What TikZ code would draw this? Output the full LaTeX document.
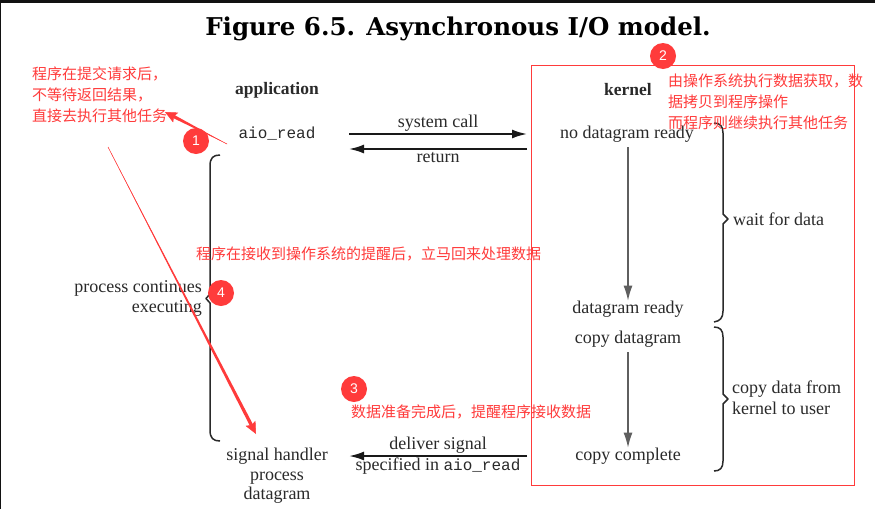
\documentclass[tikz,border=0pt]{standalone}
\usepackage{fontspec}
\setmainfont{Liberation Serif}
\setmonofont{Liberation Mono}
\newfontfamily\cjk{Noto Sans CJK SC}
\newfontfamily\titlefont{DejaVu Serif}
\newfontfamily\numfont{Liberation Sans}
\usetikzlibrary{arrows.meta,calc}
\definecolor{notered}{HTML}{FF3B3B}
\definecolor{inkgray}{HTML}{2A2A2A}
\newcommand{\fsize}[1]{\fontsize{#1}{#1}\selectfont}
% tapered annotation arrow: thin at the first coordinate, thick at the second
\newcommand{\taperarrow}[3]{
  \draw[markup] (#1) -- (#2);
  \coordinate (neck) at ($(#2)!8pt!(#1)$);
  \fill[notered] ($(neck)!#3!90:(#1)$) -- (#1) -- ($(neck)!#3!-90:(#1)$) -- cycle;
}
\begin{document}
\begin{tikzpicture}[x=1pt,y=-1pt]
%%%%%%%%%%%%%%%%%%%%%%%%%%%%%%%%%%%%%%%%%%%%%%%%%%%%%%%%
% STYLE
\tikzstyle{label}=[text=inkgray, inner sep=0pt, font=\fsize{18}, align=center]
\tikzstyle{head}=[label, font=\fsize{17.5}\bfseries]
\tikzstyle{code}=[label, font=\fsize{16}\ttfamily]
\tikzstyle{note}=[text=notered, inner sep=0pt, anchor=west, align=left, font={\fontsize{15}{21}\selectfont\cjk}]
\tikzstyle{badge}=[circle, fill=notered, text=white, inner sep=0pt, minimum size=26pt, font=\fsize{14}\numfont]
\tikzset{link/.style={-{Latex[length=15pt,width=9pt]}, line width=2pt, black!90}}
\tikzset{flow/.style={-{Latex[length=15pt,width=9pt]}, line width=1.3pt, inkgray!75}}
\tikzset{curly/.style={line width=1.5pt, inkgray, line join=round}}
\tikzset{markup/.style={-{Stealth[length=12pt,width=11pt,inset=2pt]}, line width=0.5pt, notered}}

\useasboundingbox (0,0) rectangle (875,509);
\fill[white] (0,0) rectangle (875,509);
\fill[black!93] (0,0) rectangle (875,3);
\fill[black!93] (0,0) rectangle (1,509);

%%%%%%%%%%%%%%%%%%%%%%%%%%%%%%%%%%%%%%%%%%%%%%%%%%%%%%%%
% NODES
\node[inner sep=0pt, font=\fsize{24.5}\titlefont\bfseries] (title) at (458,28.5) {Figure 6.5. Asynchronous I/O model.};

\node[head] (app) at (277,90) {application};
\node[head] (kernel) at (628,90) {kernel};

\node[code] (aio) at (277,134) {aio\_read};
\node[label] (nodata) at (627,134) {no datagram ready};
\node[label] (ready) at (628,309) {datagram ready};
\node[label] (copy) at (628,339) {copy datagram};
\node[label] (done) at (628,456) {copy complete};

\node[label, font={\fontsize{18}{19.5}\selectfont}] (handler) at (277,476) {signal handler\\process\\datagram};
\node[label, font={\fontsize{18}{20}\selectfont}, anchor=east, align=right] (cont) at (202,298) {process continues\\executing};

\node[label] (sys) at (438,123) {system call};
\node[label] (ret) at (438,158) {return};
\node[label] (deliver) at (438,445) {deliver signal};
\node[label] (spec) at (438,466) {specified in {\ttfamily\fsize{16}aio\_read}};

\node[label, anchor=west] (wait) at (733,219) {wait for data};
\node[label, anchor=west, align=left, font={\fontsize{18}{21}\selectfont}] (copydata) at (732,398) {copy data from\\kernel to user};

\coordinate (callA) at (349,134);
\coordinate (callB) at (527,134);
\coordinate (retA) at (527,149);
\coordinate (retB) at (349,149);
\coordinate (sigA) at (527,456);
\coordinate (sigB) at (349,456);

%%%%%%%%%%%%%%%%%%%%%%%%%%%%%%%%%%%%%%%%%%%%%%%%%%%%%%%%
% LINKS
\draw[link] (callA) -- (callB);
\draw[link] (retA) -- (retB);
\draw[link] (sigA) -- (sigB);
\draw[flow, shorten <=5pt] (nodata.south -| ready) -- (ready.north);
\draw[flow, shorten <=5pt] (copy.south) -- (done.north);

% braces
\draw[curly] (220,155) .. controls (213,155) and (210,158) .. (210,166) -- (210,294) -- (206,298.5) -- (210,303) -- (210,430) .. controls (210,438) and (213,441) .. (220,441);
\draw[curly] (714,123) .. controls (720,123) and (723,126) .. (723,133) -- (723,214) -- (728,219) -- (723,224) -- (723,311) .. controls (723,318) and (720,321) .. (714,322);
\draw[curly] (714,327) .. controls (720,327) and (723,330) .. (723,337) -- (723,394) -- (728,399) -- (723,404) -- (723,461) .. controls (723,468) and (720,471) .. (714,471);

%%%%%%%%%%%%%%%%%%%%%%%%%%%%%%%%%%%%%%%%%%%%%%%%%%%%%%%%
% NOTES
\draw[notered, line width=1pt] (531.5,65) rectangle (854.5,485);

\node[note] (note1) at (32,95) {程序在提交请求后，\\不等待返回结果，\\直接去执行其他任务};
\node[note] (note2) at (668,102) {由操作系统执行数据获取，数\\据拷贝到程序操作\\而程序则继续执行其他任务};
\node[note] (note3) at (351,412) {数据准备完成后，提醒程序接收数据};
\node[note] (note4) at (196,254) {程序在接收到操作系统的提醒后，立马回来处理数据};

\coordinate (upA) at (227,144);
\coordinate (upB) at (165,112);
\coordinate (downA) at (108,147);
\coordinate (downB) at (256,434);
\taperarrow{upA}{upB}{1.7pt}
\taperarrow{downA}{downB}{1.7pt}

\node[badge] (b1) at (196,141) {1};
\node[badge] (b2) at (663,56) {2};
\node[badge] (b3) at (354,389) {3};
\node[badge] (b4) at (221,293) {4};
\end{tikzpicture}
\end{document}
